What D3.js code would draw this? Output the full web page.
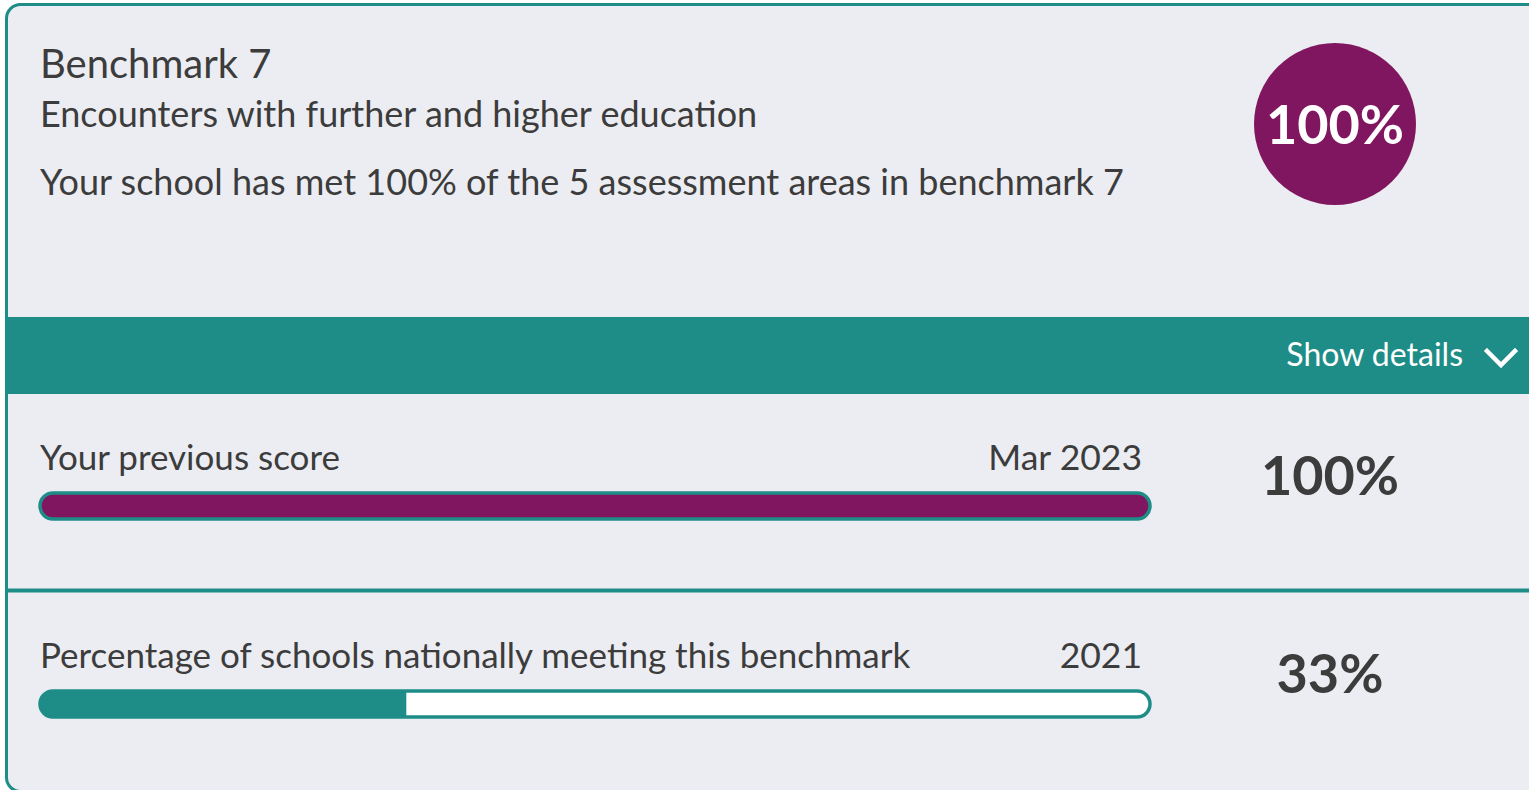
<!DOCTYPE html>
<html>
<head>
<meta charset="utf-8">
<script src="https://cdn.jsdelivr.net/npm/d3@7"></script>
<style>
  html, body { margin: 0; padding: 0; background: #ffffff; overflow: hidden; }
  text { font-family: Lato, "Open Sans", sans-serif; }
</style>
</head>
<body>
<div id="chart"></div>
<script>
// benchmark summary
var benchmarkNo = 7;
var benchmarkName = "Encounters with further and higher education";
var areasCount = 5;
var overallScore = 100;

// bar rows
var rowLabels = ["Your previous score", "Percentage of schools nationally meeting this benchmark"];
var rowDates = ["Mar 2023", "2021"];
var rowValues = [100, 33];
var rowFills = ["#80165f", "#1e8c87"];

var w = 1529, h = 790;
var teal = "#1e8c87", purple = "#80165f", ink = "#3c3c3c", bg = "#ecedf2";

var svg = d3.select('#chart').append('svg')
  .attr('width', w)
  .attr('height', h);

// card (runs past the right and bottom edge)
svg.append('rect')
  .attr('x', 6.5).attr('y', 4.5)
  .attr('width', w + 40).attr('height', 787)
  .attr('rx', 14).attr('ry', 14)
  .attr('fill', bg)
  .attr('stroke', teal)
  .attr('stroke-width', 3);

// header texts
svg.append('text')
  .attr('x', 40).attr('y', 78)
  .attr('font-size', 40)
  .attr('fill', ink)
  .text('Benchmark ' + benchmarkNo);

svg.append('text')
  .attr('x', 40).attr('y', 127)
  .attr('font-size', 36)
  .attr('fill', ink)
  .text(benchmarkName);

svg.append('text')
  .attr('x', 40).attr('y', 195)
  .attr('font-size', 36)
  .attr('fill', ink)
  .text('Your school has met ' + overallScore + '% of the ' + areasCount + ' assessment areas in benchmark ' + benchmarkNo);

// score badge
svg.append('circle')
  .attr('cx', 1335).attr('cy', 124).attr('r', 81)
  .attr('fill', purple);

svg.append('text')
  .attr('x', 1335).attr('y', 144)
  .attr('text-anchor', 'middle')
  .attr('font-size', 54)
  .attr('font-weight', 'bold')
  .attr('fill', '#ffffff')
  .text(overallScore + '%');

// details band
svg.append('rect')
  .attr('x', 5).attr('y', 317)
  .attr('width', w).attr('height', 77)
  .attr('fill', teal);

svg.append('text')
  .attr('x', 1463).attr('y', 366)
  .attr('text-anchor', 'end')
  .attr('font-size', 32)
  .attr('fill', '#ffffff')
  .text('Show details');

svg.append('path')
  .attr('d', 'M1487,351 L1501,365 L1515,351')
  .attr('fill', 'none')
  .attr('stroke', '#ffffff')
  .attr('stroke-width', 4.5)
  .attr('stroke-linecap', 'square');

// divider between rows
svg.append('line')
  .attr('x1', 5).attr('x2', w)
  .attr('y1', 590.5).attr('y2', 590.5)
  .attr('stroke', teal)
  .attr('stroke-width', 4);

// bar rows
var x = d3.scaleLinear().domain([0, 100]).range([40, 1150]);
var rowY = d3.scaleOrdinal().domain([0, 1]).range([470, 668]);
var barH = 26;

var rows = svg.selectAll('g.row')
  .data(d3.range(rowValues.length))
  .enter().append('g')
  .attr('class', 'row')
  .attr('transform', function(d) { return 'translate(0,' + rowY(d) + ')'; });

rows.append('text')
  .attr('x', 40).attr('y', 0)
  .attr('font-size', 35)
  .attr('fill', ink)
  .text(function(d) { return rowLabels[d]; });

rows.append('text')
  .attr('x', 1142).attr('y', 0)
  .attr('text-anchor', 'end')
  .attr('font-size', 35.5)
  .attr('fill', ink)
  .text(function(d) { return rowDates[d]; });

// track
rows.append('rect')
  .attr('x', x(0)).attr('y', 23)
  .attr('width', x(100) - x(0)).attr('height', barH)
  .attr('rx', barH / 2)
  .attr('fill', '#ffffff');

// clip for fill
rows.append('clipPath')
  .attr('id', function(d) { return 'clip-' + d; })
  .append('rect')
  .attr('x', x(0)).attr('y', 23)
  .attr('width', x(100) - x(0)).attr('height', barH)
  .attr('rx', barH / 2);

rows.append('rect')
  .attr('clip-path', function(d) { return 'url(#clip-' + d + ')'; })
  .attr('x', x(0)).attr('y', 23)
  .attr('width', function(d) { return x(rowValues[d]) - x(0); })
  .attr('height', barH)
  .attr('fill', function(d) { return rowFills[d]; });

rows.append('rect')
  .attr('x', x(0)).attr('y', 23)
  .attr('width', x(100) - x(0)).attr('height', barH)
  .attr('rx', barH / 2)
  .attr('fill', 'none')
  .attr('stroke', teal)
  .attr('stroke-width', 3.5);

rows.append('text')
  .attr('x', 1330).attr('y', 25)
  .attr('text-anchor', 'middle')
  .attr('font-size', 54)
  .attr('font-weight', 'bold')
  .attr('fill', ink)
  .text(function(d) { return rowValues[d] + '%'; });
</script>
</body>
</html>
